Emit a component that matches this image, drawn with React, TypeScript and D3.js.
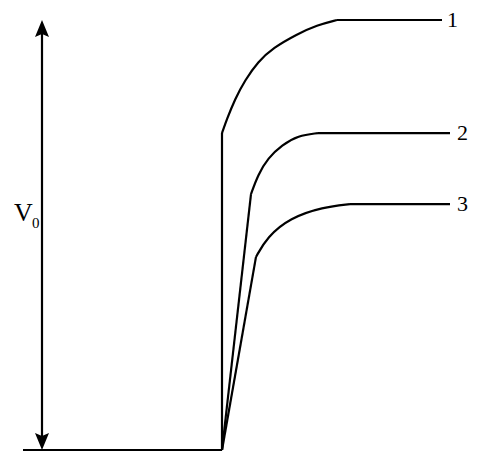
import React from "react";
import * as d3 from "d3";

// time (arbitrary units, step at t=0) and normalised voltage (V0 = 1)
const baselineT = [-199, 0];
const curve1T = [0, 0, 5, 13, 23, 36, 51, 75, 95, 115, 220];
const curve1V = [0, 0.737, 0.77, 0.816, 0.86, 0.903, 0.935, 0.967, 0.988, 1.0, 1.0];
const curve2T = [0, 29, 36, 46, 60, 76, 96, 228];
const curve2V = [0, 0.595, 0.64, 0.679, 0.709, 0.731, 0.737, 0.737];
const curve3T = [0, 34, 45, 68, 101, 128, 228];
const curve3V = [0, 0.449, 0.495, 0.54, 0.565, 0.572, 0.572];
const curveLabels = ["1", "2", "3"];
const arrowT = -180;

const W = 489;
const H = 468;

export default function App() {
  const x = d3.scaleLinear().domain([0, 228]).range([222, 450]);
  const y = d3.scaleLinear().domain([0, 1]).range([450, 20]);

  const lin = d3.line<[number, number]>().x((d) => x(d[0])).y((d) => y(d[1]));
  const smooth = d3
    .line<[number, number]>()
    .x((d) => x(d[0]))
    .y((d) => y(d[1]))
    .curve(d3.curveBasis);

  const series = [
    { t: curve1T, v: curve1V },
    { t: curve2T, v: curve2V },
    { t: curve3T, v: curve3V },
  ];

  const paths: string[] = [];
  series.forEach((s) => {
    const pts: [number, number][] = s.t.map((t, i) => [t, s.v[i]]);
    const n = pts.length;
    paths.push(lin([pts[0], pts[1]]) as string);
    paths.push(smooth(pts.slice(1, n - 1)) as string);
    paths.push(lin([pts[n - 2], pts[n - 1]]) as string);
  });

  const labelPos = series.map((s, i) => ({
    x: x(s.t[s.t.length - 1]) + (i === 0 ? 5 : 7),
    y: y(s.v[s.v.length - 1]) + 7,
  }));

  const ax = x(arrowT);
  const yTop = y(1);
  const yBot = y(0);

  return (
    <svg
      width={W}
      height={H}
      style={{ position: "absolute", left: 0, top: 0, background: "#fff" }}
    >
      <rect width={W} height={H} fill="#fff" />
      {/* baseline */}
      <path d={lin([[baselineT[0], 0], [baselineT[1], 0]]) as string} stroke="#000" strokeWidth={2.2} fill="none" />
      {/* V0 double arrow */}
      <line x1={ax} x2={ax} y1={yTop + 10} y2={yBot - 10} stroke="#000" strokeWidth={2.2} />
      <path
        d={`M${ax},${yTop} L${ax - 7},${yTop + 17} L${ax},${yTop + 14} L${ax + 7},${yTop + 17} Z`}
        fill="#000"
      />
      <path
        d={`M${ax},${yBot} L${ax - 7},${yBot - 17} L${ax},${yBot - 14} L${ax + 7},${yBot - 17} Z`}
        fill="#000"
      />
      <text x={14} y={221} fontFamily="Liberation Serif, Times New Roman, serif" fontSize={26}>
        V
      </text>
      <text x={32} y={228} fontFamily="Liberation Serif, Times New Roman, serif" fontSize={15}>
        0
      </text>
      {paths.map((d, i) => (
        <path key={i} d={d} stroke="#000" strokeWidth={2.2} fill="none" strokeLinejoin="round" />
      ))}
      {curveLabels.map((l, i) => (
        <text
          key={l}
          x={labelPos[i].x}
          y={labelPos[i].y}
          fontFamily="Liberation Serif, Times New Roman, serif"
          fontSize={22}
        >
          {l}
        </text>
      ))}
    </svg>
  );
}
